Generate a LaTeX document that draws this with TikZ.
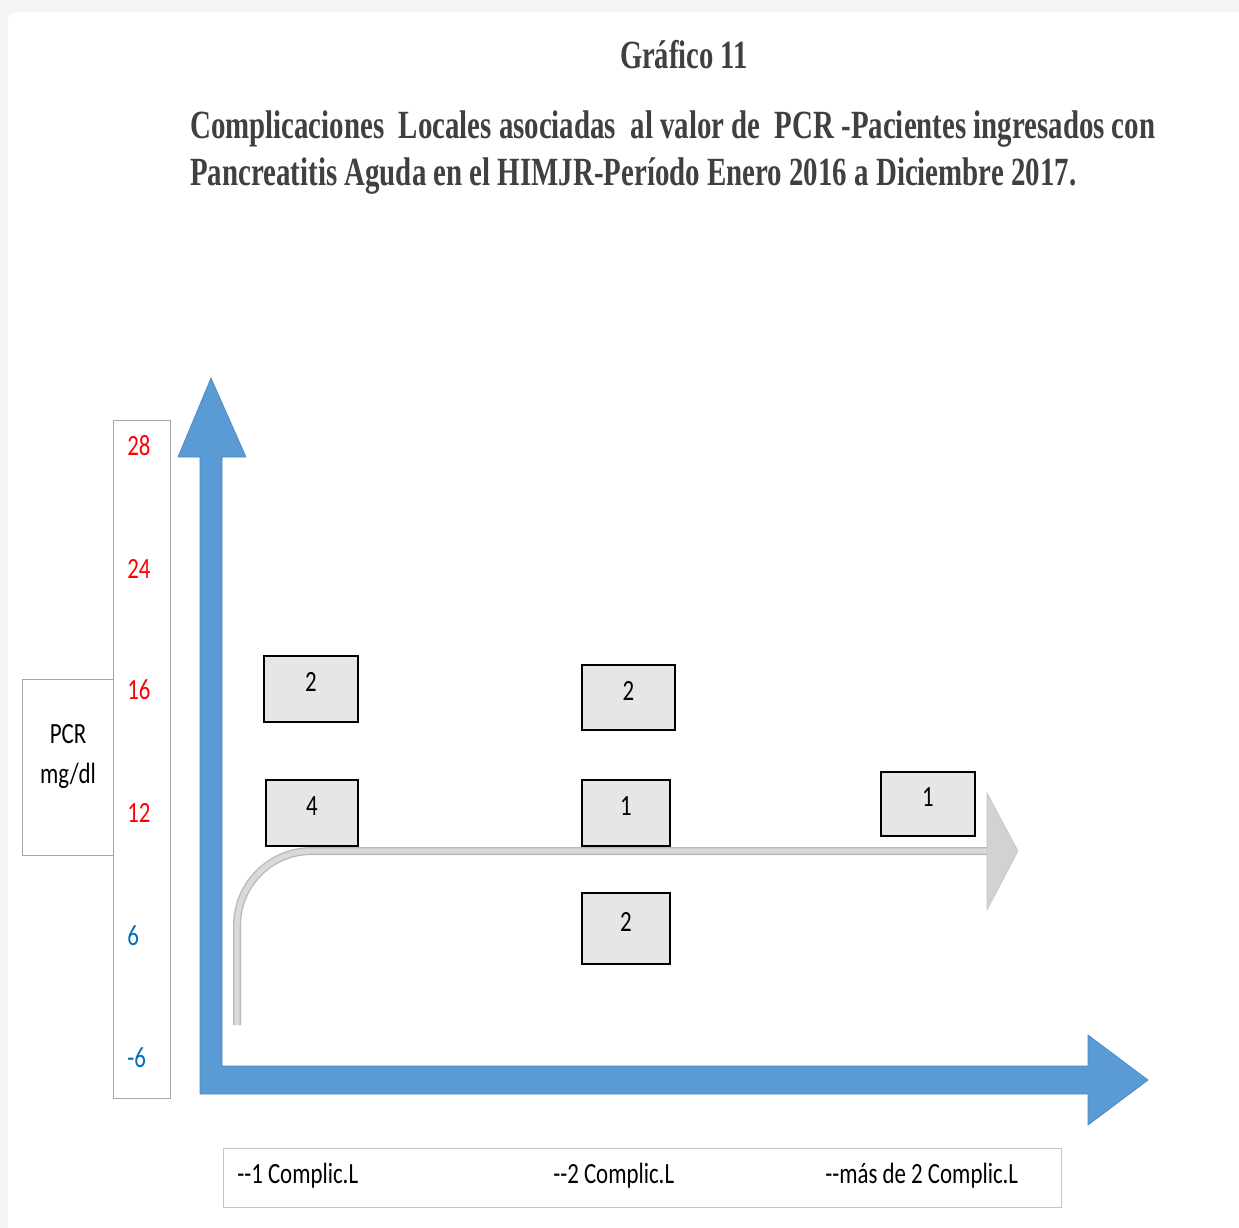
\documentclass[tikz,border=0pt]{standalone}
\usepackage{fontspec}
\setmainfont{Carlito}
\newfontfamily\titlefont{Liberation Serif}
\usepackage{graphicx}
\usetikzlibrary{positioning}
\definecolor{axisblue}{HTML}{5B9BD5}
\definecolor{axisedge}{HTML}{4A86C0}
\definecolor{valred}{HTML}{FF0000}
\definecolor{valblue}{HTML}{0070C0}
\definecolor{titlegray}{HTML}{404040}
\definecolor{boxfill}{HTML}{E7E6E6}
\definecolor{framegray}{HTML}{A6A6A6}
\newcommand{\nar}[1]{\scalebox{0.78}[1]{#1}}
\newcommand{\ttl}[2]{\resizebox{#1}{\height}{\titlefont\bfseries\fontsize{30}{36}\selectfont #2}}

\begin{document}
\begin{tikzpicture}[x=0.75pt,y=-0.75pt,
    lbl/.style={font=\fontsize{22}{26}\selectfont, inner sep=0pt},
    cnt/.style={draw=black, line width=1.5pt, fill=boxfill,
                minimum width=69pt, minimum height=49.5pt,
                label={[lbl,yshift=5pt]center:\nar{#1}}},
    frame/.style={draw=framegray, line width=1pt, fill=white, anchor=north west},
    tick/.style={lbl, anchor=west}]
  \useasboundingbox (0,0) rectangle (1239,1228);
  \fill[gray!8] (0,0) rectangle (1239,1228);
  \fill[white, rounded corners=6pt] (8,12) rectangle (1260,1250);

  % title
  \node[anchor=base, text=titlegray, inner sep=0pt] (ttl)  at (684,68)  {\ttl{96pt}{Gráfico 11}};
  \node[anchor=base west, text=titlegray, inner sep=0pt] (ttla) at (190,138)
       {\ttl{723.75pt}{Complicaciones\ \ Locales asociadas\ \ al valor de\ \ PCR -Pacientes ingresados con}};
  \node[anchor=base west, text=titlegray, inner sep=0pt] (ttlb) at (190,185)
       {\ttl{664.5pt}{Pancreatitis Aguda en el HIMJR-Período Enero 2016 a Diciembre 2017.}};

  % PCR scale
  \node[frame, minimum width=68.25pt, minimum height=132pt] (pcrbox) at (22,679) {};
  \node[frame, minimum width=42.75pt, minimum height=508.5pt] (scale) at (113,420) {};
  \node[lbl, align=center, font=\fontsize{22}{30}\selectfont] (pcr) at (68,756) {\nar{PCR}\\\nar{mg/dl}};
  \foreach \v/\y/\c in {28/446/valred, 24/569/valred, 16/690/valred, 12/813/valred, 6/936/valblue, -6/1058/valblue}
    \node[tick, text=\c] (t\v) at (127,\y) {\nar{\v}};

  % axes
  \coordinate (orig) at (200,1094);
  \coordinate (ytip) at (211,378);
  \coordinate (xtip) at (1148,1080);
  \filldraw[fill=axisblue, draw=axisedge, line width=0.5pt]
    (ytip) -- (246,457) -- (222,457) -- (222,1066) -- (1088,1066) -- (1088,1035)
    -- (xtip) -- (1088,1125) -- (1088,1094) -- (orig) -- (200,457) -- (178,457) -- cycle;

  % grey trend arrow
  \coordinate (gstart) at (237,1025);
  \coordinate (gend) at (990,851);
  \draw[draw=gray!55, double=gray!30, double distance=4pt, line width=1pt, rounded corners=56pt]
    (gstart) |- (gend);
  \filldraw[fill=gray!35, draw=gray!45, line width=0.5pt] (987,793) -- (1018,851) -- (987,910) -- cycle;

  % counts
  \node[cnt=2, minimum width=70.5pt] (c1hi)  at (311,689)   {};
  \node[cnt=4]                       (c1mid) at (312,812.5) {};
  \node[cnt=2, minimum width=70pt, minimum height=48.75pt] (c2hi) at (628.5,697.5) {};
  \node[cnt=1, minimum width=66pt]   (c2mid) at (626,812.5) {};
  \node[cnt=2, minimum width=66pt, minimum height=53pt] (c2lo) at (626,928.5) {};
  \node[cnt=1, minimum width=70.5pt, minimum height=48pt] (c3mid) at (928,804) {};

  % legend
  \node[frame, draw=gray!45, minimum width=628.5pt, minimum height=44.25pt] (leg) at (223,1148) {};
  \node[tick] (l1) at (237,1176) {\nar{-{}-1 Complic.L}};
  \node[tick] (l2) at (553,1176) {\nar{-{}-2 Complic.L}};
  \node[tick] (l3) at (825,1176) {\nar{-{}-más de 2 Complic.L}};
\end{tikzpicture}
\end{document}
